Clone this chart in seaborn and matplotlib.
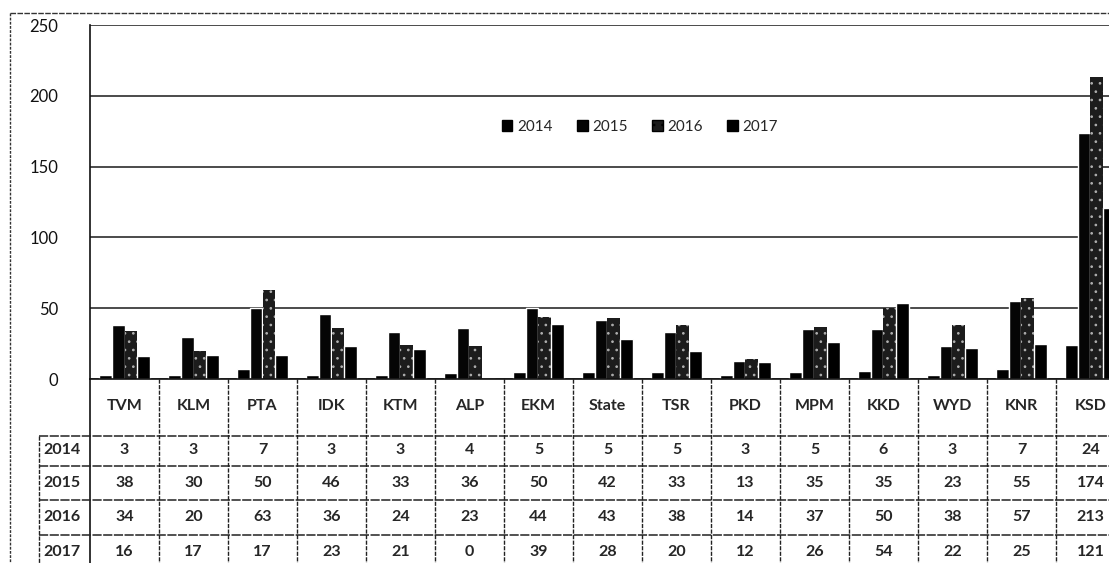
import matplotlib
matplotlib.use('Agg')
import matplotlib.pyplot as plt
import matplotlib.transforms as mtransforms
from matplotlib.lines import Line2D
import seaborn as sns
import pandas as pd

# chart data
districts = ['TVM', 'KLM', 'PTA', 'IDK', 'KTM', 'ALP', 'EKM', 'State', 'TSR',
             'PKD', 'MPM', 'KKD', 'WYD', 'KNR', 'KSD']
years = ['2014', '2015', '2016', '2017']
v2014 = [3, 3, 7, 3, 3, 4, 5, 5, 5, 3, 5, 6, 3, 7, 24]
v2015 = [38, 30, 50, 46, 33, 36, 50, 42, 33, 13, 35, 35, 23, 55, 174]
v2016 = [34, 20, 63, 36, 24, 23, 44, 43, 38, 14, 37, 50, 38, 57, 213]
v2017 = [16, 17, 17, 23, 21, 0, 39, 28, 20, 12, 26, 54, 22, 25, 121]
y_ticks = [0, 50, 100, 150, 200, 250]

series = {'2014': v2014, '2015': v2015, '2016': v2016, '2017': v2017}
rows = []
for yr in years:
    for d, v in zip(districts, series[yr]):
        rows.append({'district': d, 'year': yr, 'count': v})
df = pd.DataFrame(rows)

sns.set_style('white')
plt.rcParams['font.family'] = ['Lato', 'DejaVu Sans']
plt.rcParams['hatch.linewidth'] = 0.7

W, H = 1109, 563
fig = plt.figure(figsize=(W / 100, H / 100), dpi=100)

# plot area in pixels (x: 90 -> 1125, clipped by figure edge; y: 25 -> 379)
px_left, px_right, px_top, px_bottom = 90, 1125, 25, 379
ax = fig.add_axes([px_left / W, 1 - px_bottom / H,
                   (px_right - px_left) / W, (px_bottom - px_top) / H])

palette = ['#000000', '#050505', '#1c1c1c', '#000000']
sns.barplot(data=df, x='district', y='count', hue='year', order=districts,
            hue_order=years, palette=palette, width=0.74, gap=0,
            saturation=1, ax=ax, legend=False)

# 2016 bars look speckled in the scan
for bar in ax.containers[2]:
    bar.set_hatch('..')
    bar.set_edgecolor('#b0b0b0')
    bar.set_linewidth(0)

ax.set_xlim(-0.5, len(districts) - 0.5)
ax.set_ylim(0, 250)
ax.set_yticks(y_ticks)
ax.set_yticklabels([str(t) for t in y_ticks], fontsize=12)
ax.set_xticks([])
ax.set_xlabel('')
ax.set_ylabel('')
ax.tick_params(axis='y', length=5, width=1, direction='out', pad=18, colors='#111111')
ax.yaxis.grid(True, color='#1a1a1a', linewidth=1.1)
ax.set_axisbelow(True)
for side in ['top', 'right']:
    ax.spines[side].set_visible(False)
ax.spines['left'].set_color('#111111')
ax.spines['left'].set_linewidth(1.2)
ax.spines['bottom'].set_color('#111111')
ax.spines['bottom'].set_linewidth(1.2)

# legend
handles = [plt.Rectangle((0, 0), 1, 1, facecolor=palette[i], edgecolor='black',
                         hatch='..' if i == 2 else None) for i in range(4)]
fig.legend(handles, years, loc='center', bbox_to_anchor=(640 / W, 1 - 127 / H),
           ncol=4, frameon=False, fontsize=11, handlelength=0.7, handleheight=0.7,
           handletextpad=0.3, columnspacing=1.6)

# data table under the chart, x in data units, y in pixels
trans = mtransforms.blended_transform_factory(ax.transData, fig.transFigure)


def fy(py):
    return 1 - py / H


label_left = -0.5 - 51 / 69
row_lines = [436, 466, 500, 535]
row_centres = [450, 483, 517, 552]
n = len(districts)

# column separators
for i in range(1, n + 1):
    ax.add_line(Line2D([i - 0.5, i - 0.5], [fy(379), fy(H)], transform=trans,
                       color='#222222', lw=1, ls=(0, (3, 1)), clip_on=False))
ax.add_line(Line2D([-0.5, -0.5], [fy(379), fy(H)], transform=trans,
                   color='#111111', lw=1.2, clip_on=False))
ax.add_line(Line2D([label_left, label_left], [fy(row_lines[0]), fy(H)], transform=trans,
                   color='#222222', lw=1, ls=(0, (3, 1)), clip_on=False))
for ry in row_lines:
    ax.add_line(Line2D([label_left, n], [fy(ry), fy(ry)], transform=trans,
                       color='#222222', lw=1.1, ls=(0, (6, 1)), clip_on=False))

for i, d in enumerate(districts):
    ax.text(i, fy(406), d, transform=trans, ha='center', va='center',
            fontsize=11.5, fontweight='bold', clip_on=False)
for yr, yc in zip(years, row_centres):
    ax.text(label_left + 0.06, fy(yc), yr, transform=trans, ha='left', va='center',
            fontsize=11.5, fontweight='bold', clip_on=False)
    for i, v in enumerate(series[yr]):
        ax.text(i, fy(yc), str(v), transform=trans, ha='center', va='center',
                fontsize=11.5, fontweight='bold', clip_on=False)

# scanned page frame
fig.add_artist(Line2D([10 / W, 10 / W], [fy(13), 0], transform=fig.transFigure,
                      color='#333333', lw=1, ls=(0, (2, 1))))
fig.add_artist(Line2D([10 / W, 1], [fy(13), fy(13)], transform=fig.transFigure,
                      color='#333333', lw=1, ls=(0, (4, 1))))

fig.savefig('out.png', dpi=100)
